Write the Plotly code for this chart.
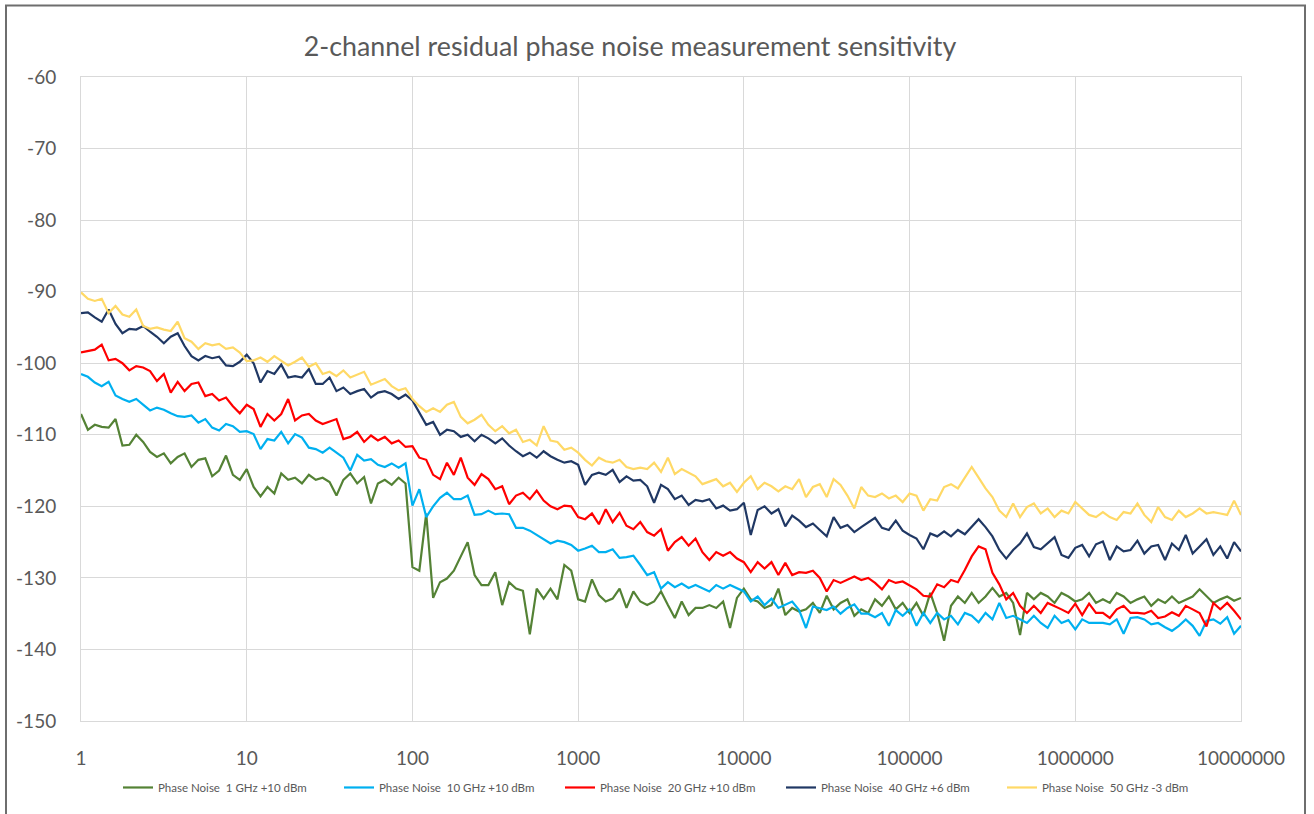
import numpy as np
import plotly.graph_objects as go

# Offset frequency grid (Hz): 24 points per decade from 1 Hz to 10 MHz
freq = np.logspace(0, 7, 169)

# Phase noise (dBc/Hz) per channel, one value per grid frequency
pn_1ghz = [
    -107.1, -109.3, -108.6, -108.9, -109.0, -107.8, -111.5, -111.4, -110.0, -111.0, -112.4, -113.1,
    -112.6, -114.0, -113.1, -112.6, -114.5, -113.5, -113.3, -115.8, -115.0, -112.9, -115.6, -116.3,
    -114.8, -117.3, -118.6, -117.3, -118.2, -115.4, -116.3, -116.0, -116.8, -115.6, -116.3, -116.0,
    -116.6, -118.5, -116.3, -115.4, -116.8, -115.9, -119.6, -116.8, -116.3, -117.0, -116.0, -116.8,
    -128.5, -129.0, -121.0, -132.8, -130.6, -130.1, -129.0, -126.9, -125.0, -129.6, -131.0, -131.0,
    -129.2, -133.8, -130.6, -131.5, -131.8, -137.9, -131.5, -132.9, -131.5, -133.0, -128.2, -129.0,
    -133.0, -133.3, -130.2, -132.4, -133.3, -132.9, -131.5, -134.2, -131.9, -133.3, -133.8, -133.3,
    -131.9, -133.8, -135.6, -133.3, -135.2, -134.2, -134.2, -133.8, -134.2, -133.3, -137.0, -132.8,
    -131.5, -133.0, -133.3, -134.2, -133.8, -131.5, -135.2, -134.2, -134.7, -134.4, -133.5, -134.9,
    -132.5, -134.4, -133.5, -133.0, -135.3, -134.4, -134.9, -133.0, -133.9, -132.6, -134.4, -133.5,
    -134.9, -133.5, -135.3, -132.1, -134.9, -138.8, -133.9, -132.6, -133.5, -132.1, -133.5, -132.6,
    -131.4, -132.6, -132.1, -133.5, -138.0, -132.1, -133.0, -132.1, -132.6, -133.5, -132.1, -132.6,
    -133.3, -133.0, -132.1, -133.5, -133.0, -133.5, -132.1, -132.6, -133.5, -133.0, -132.6, -133.9,
    -133.0, -133.5, -132.6, -133.5, -133.0, -132.6, -131.6, -132.6, -133.5, -133.0, -132.6, -133.2,
    -132.8,
]

pn_10ghz = [
    -101.5, -101.9, -102.7, -103.2, -102.6, -104.5, -105.0, -105.4, -105.0, -105.8, -106.6, -106.2,
    -106.5, -107.0, -107.4, -107.5, -107.3, -108.3, -107.8, -109.0, -109.4, -108.5, -108.8, -109.6,
    -109.5, -109.9, -112.0, -110.6, -110.8, -109.6, -111.2, -109.9, -110.4, -111.8, -112.0, -112.5,
    -111.8, -112.5, -113.2, -115.0, -112.8, -113.6, -113.4, -114.2, -114.5, -114.0, -114.6, -114.0,
    -119.9, -117.6, -121.5, -120.0, -118.8, -118.1, -119.0, -119.0, -118.5, -121.2, -121.1, -120.6,
    -121.1, -121.0, -121.1, -123.0, -123.0, -123.4, -124.0, -124.5, -125.2, -124.8, -125.0, -125.4,
    -126.2, -125.9, -125.5, -126.4, -126.4, -126.0, -127.2, -127.1, -126.9, -128.2, -129.6, -129.2,
    -131.5, -130.6, -131.3, -130.8, -131.4, -131.0, -131.5, -131.9, -131.0, -131.5, -131.0, -131.5,
    -131.9, -133.3, -132.6, -133.8, -132.9, -134.2, -133.8, -133.3, -134.5, -137.0, -134.0, -134.2,
    -134.5, -134.0, -135.0, -134.2, -133.7, -135.0, -135.0, -135.5, -134.9, -136.7, -134.5, -135.3,
    -134.4, -136.7, -134.9, -136.3, -134.9, -135.8, -135.3, -136.5, -134.9, -135.3, -136.2, -134.9,
    -135.8, -133.5, -135.6, -135.3, -135.8, -136.3, -135.3, -136.3, -137.0, -135.3, -136.3, -135.9,
    -137.2, -135.8, -136.3, -136.3, -136.3, -136.5, -135.8, -137.8, -135.6, -135.5, -135.8, -136.5,
    -136.3, -136.9, -137.4, -136.7, -135.8, -136.7, -138.1, -136.0, -135.8, -136.4, -135.5, -137.8,
    -136.7,
]

pn_20ghz = [
    -98.5, -98.3, -98.1, -97.4, -99.6, -99.4, -100.0, -101.0, -100.4, -100.6, -101.1, -102.5,
    -101.5, -104.1, -102.6, -103.9, -102.9, -102.7, -104.6, -104.3, -105.2, -104.8, -106.0, -107.0,
    -105.8, -106.4, -108.9, -107.1, -108.0, -107.1, -105.0, -108.0, -107.3, -107.1, -108.0, -108.5,
    -108.2, -107.8, -110.6, -110.3, -109.6, -111.0, -110.1, -110.8, -110.3, -111.2, -110.8, -111.7,
    -111.6, -113.2, -113.5, -115.6, -116.2, -113.9, -115.6, -113.2, -116.0, -117.0, -115.5, -116.2,
    -117.6, -117.2, -119.7, -118.5, -118.1, -119.0, -117.8, -119.2, -120.0, -120.4, -119.9, -120.0,
    -121.5, -121.8, -121.0, -122.5, -120.4, -122.2, -120.9, -122.7, -123.2, -122.2, -123.6, -124.1,
    -123.2, -126.2, -125.0, -124.3, -125.5, -124.5, -126.4, -127.5, -126.4, -126.9, -126.4, -127.3,
    -127.8, -129.2, -127.8, -128.7, -127.8, -129.6, -127.9, -129.6, -129.2, -129.3, -129.0, -130.0,
    -131.9, -130.3, -130.7, -130.3, -129.8, -130.3, -130.0, -130.7, -131.6, -130.3, -130.7, -130.5,
    -131.0, -131.6, -132.5, -132.6, -130.9, -131.3, -130.3, -130.6, -128.9, -127.0, -125.6, -126.0,
    -129.3, -130.9, -133.0, -132.1, -133.9, -134.9, -133.9, -134.9, -133.5, -133.9, -134.4, -134.9,
    -133.6, -135.2, -133.6, -134.9, -134.9, -135.6, -134.4, -133.9, -134.9, -134.9, -135.0, -134.6,
    -135.6, -135.4, -134.8, -135.3, -133.9, -134.4, -134.9, -136.8, -133.5, -134.4, -133.5, -134.6,
    -135.8,
]

pn_40ghz = [
    -93.0, -92.9, -93.6, -94.2, -92.5, -94.5, -95.8, -95.2, -95.3, -94.8, -95.6, -96.3,
    -97.2, -96.3, -95.8, -97.6, -99.0, -99.6, -99.0, -99.3, -99.1, -100.3, -100.4, -99.8,
    -98.8, -100.0, -102.7, -101.1, -101.5, -100.2, -102.0, -101.8, -102.0, -100.8, -102.9, -102.9,
    -102.0, -103.9, -103.4, -104.3, -103.9, -103.6, -104.8, -104.1, -103.9, -104.3, -105.0, -104.4,
    -105.2, -107.0, -108.6, -108.2, -110.0, -109.3, -109.5, -110.3, -110.0, -110.9, -110.0, -110.5,
    -111.2, -110.5, -111.5, -112.3, -113.0, -112.5, -113.2, -112.3, -113.0, -113.5, -113.9, -113.7,
    -114.2, -117.0, -115.6, -115.3, -115.6, -114.9, -116.6, -115.8, -116.4, -116.3, -117.2, -119.5,
    -117.0, -117.6, -119.0, -118.5, -119.8, -119.1, -119.3, -119.0, -120.3, -119.9, -120.6, -120.4,
    -119.5, -124.0, -120.5, -120.0, -121.0, -120.4, -122.8, -121.3, -122.0, -122.9, -122.4, -123.3,
    -124.2, -121.5, -123.0, -122.6, -123.6, -122.9, -122.2, -121.6, -123.0, -123.3, -122.0, -123.4,
    -124.0, -124.5, -126.0, -123.8, -124.2, -123.5, -124.2, -123.3, -123.9, -122.9, -121.8, -122.9,
    -124.2, -126.1, -127.3, -126.1, -125.2, -123.8, -125.7, -126.0, -125.2, -124.3, -126.8, -127.2,
    -125.8, -125.4, -127.0, -125.3, -124.9, -127.5, -125.6, -126.3, -126.1, -124.8, -126.6, -125.6,
    -125.4, -127.5, -125.2, -126.1, -124.0, -126.6, -125.6, -124.6, -126.8, -125.6, -127.3, -125.0,
    -126.3,
]

pn_50ghz = [
    -90.1, -91.0, -91.3, -91.0, -93.0, -92.0, -93.2, -93.5, -92.5, -94.8, -95.2, -95.0,
    -95.3, -95.5, -94.2, -96.5, -97.0, -98.0, -97.2, -97.5, -97.3, -98.0, -97.8, -98.5,
    -99.7, -99.6, -99.2, -99.8, -99.0, -99.7, -100.3, -99.8, -99.2, -100.5, -100.0, -101.5,
    -101.2, -101.8, -101.0, -102.0, -101.6, -101.2, -103.0, -102.6, -102.2, -103.2, -103.8, -103.5,
    -105.0, -106.0, -106.8, -106.3, -106.8, -105.8, -105.4, -107.5, -108.4, -107.9, -107.2, -108.6,
    -109.5, -108.8, -109.8, -109.3, -111.0, -110.7, -111.5, -108.8, -110.8, -111.0, -112.1, -111.8,
    -112.5, -113.5, -114.3, -113.2, -113.7, -113.9, -113.5, -114.5, -114.8, -114.6, -114.8, -113.9,
    -115.2, -113.2, -115.5, -114.8, -115.3, -115.8, -116.9, -116.6, -116.2, -117.2, -116.7, -118.0,
    -116.7, -115.8, -117.6, -116.7, -117.2, -117.9, -117.2, -117.6, -116.2, -118.7, -117.3, -116.9,
    -118.7, -116.2, -117.0, -118.5, -120.3, -117.3, -118.5, -118.7, -118.2, -118.9, -118.5, -119.4,
    -118.2, -118.5, -120.6, -119.0, -119.2, -117.3, -116.9, -117.5, -115.9, -114.5, -116.0, -117.5,
    -118.7, -120.6, -121.5, -119.6, -121.5, -120.1, -119.6, -121.0, -120.3, -121.5, -120.6, -121.0,
    -119.4, -120.3, -121.2, -121.5, -120.8, -121.5, -121.9, -120.8, -121.0, -119.6, -121.2, -122.2,
    -120.1, -121.5, -121.9, -120.6, -121.5, -121.0, -120.3, -121.0, -120.8, -121.0, -121.2, -119.2,
    -121.2,
]

series_names = [
    "Phase Noise\u00a0 1 GHz +10 dBm",
    "Phase Noise\u00a0 10 GHz +10 dBm",
    "Phase Noise\u00a0 20 GHz +10 dBm",
    "Phase Noise\u00a0 40 GHz +6 dBm",
    "Phase Noise\u00a0 50 GHz -3 dBm",
]
series_values = [pn_1ghz, pn_10ghz, pn_20ghz, pn_40ghz, pn_50ghz]
series_colors = ["#548235", "#00B0F0", "#FF0000", "#203864", "#FFD966"]

x_tick_vals = [1, 10, 100, 1000, 10000, 100000, 1000000, 10000000]
x_tick_text = ["1", "10", "100", "1000", "10000", "100000", "1000000", "10000000"]
y_tick_vals = [-150, -140, -130, -120, -110, -100, -90, -80, -70, -60]
y_tick_text = ["-150", "-140", "-130", "-120", "-110", "-100", "-90", "-80", "-70", "-60"]

FONT = "Lato, 'Open Sans', sans-serif"
TEXT_GREY = "#595959"
GRID = "#d9d9d9"

fig = go.Figure()
for name, vals, col in zip(series_names, series_values, series_colors):
    fig.add_trace(go.Scatter(
        x=freq, y=vals, mode="lines", name=name,
        line=dict(color=col, width=2.2),
    ))

W, H = 1314, 814
ML, MR, MT, MB = 81, 73, 77, 88
pw, ph = W - ML - MR, H - MT - MB


def px_x(p):
    return (p - ML) / pw


def px_y(p):
    return (H - MB - p) / ph


fig.update_layout(
    width=W, height=H,
    margin=dict(l=ML, r=MR, t=MT, b=MB),
    paper_bgcolor="white", plot_bgcolor="white",
    font=dict(family=FONT, color=TEXT_GREY),
    title=dict(
        text="2-channel residual phase noise measurement sensitivity",
        font=dict(size=26.8, color=TEXT_GREY, family=FONT),
        x=px_x(630), xref="paper", xanchor="center",
        y=1 - 47 / H, yref="container", yanchor="middle",
    ),
    xaxis=dict(
        type="log", range=[0, 7],
        tickmode="array", tickvals=x_tick_vals, ticktext=x_tick_text,
        showgrid=True, gridcolor=GRID, gridwidth=1,
        showline=True, linecolor=GRID, linewidth=1, mirror=True,
        zeroline=False, ticks="",
        tickfont=dict(size=19, color=TEXT_GREY, family=FONT),
        ticklabelstandoff=20,
    ),
    yaxis=dict(
        range=[-150, -60],
        tickmode="array", tickvals=y_tick_vals, ticktext=y_tick_text,
        showgrid=True, gridcolor=GRID, gridwidth=1,
        showline=True, linecolor=GRID, linewidth=1, mirror=True,
        zeroline=False, ticks="",
        tickfont=dict(size=19, color=TEXT_GREY, family=FONT),
        ticklabelstandoff=20,
    ),
    legend=dict(
        orientation="h",
        x=px_x(118), xanchor="left",
        y=px_y(793), yanchor="middle",
        font=dict(size=11.5, color=TEXT_GREY, family=FONT),
        entrywidth=176, entrywidthmode="pixels",
        itemwidth=30,
        bgcolor="rgba(0,0,0,0)",
    ),
    shapes=[dict(
        type="rect", xref="paper", yref="paper",
        x0=px_x(6), x1=px_x(1305), y0=px_y(5), y1=px_y(830),
        line=dict(color="#6e6e6e", width=2), fillcolor="rgba(0,0,0,0)",
        layer="above",
    )],
    showlegend=True,
)

fig.write_html("out.html")
